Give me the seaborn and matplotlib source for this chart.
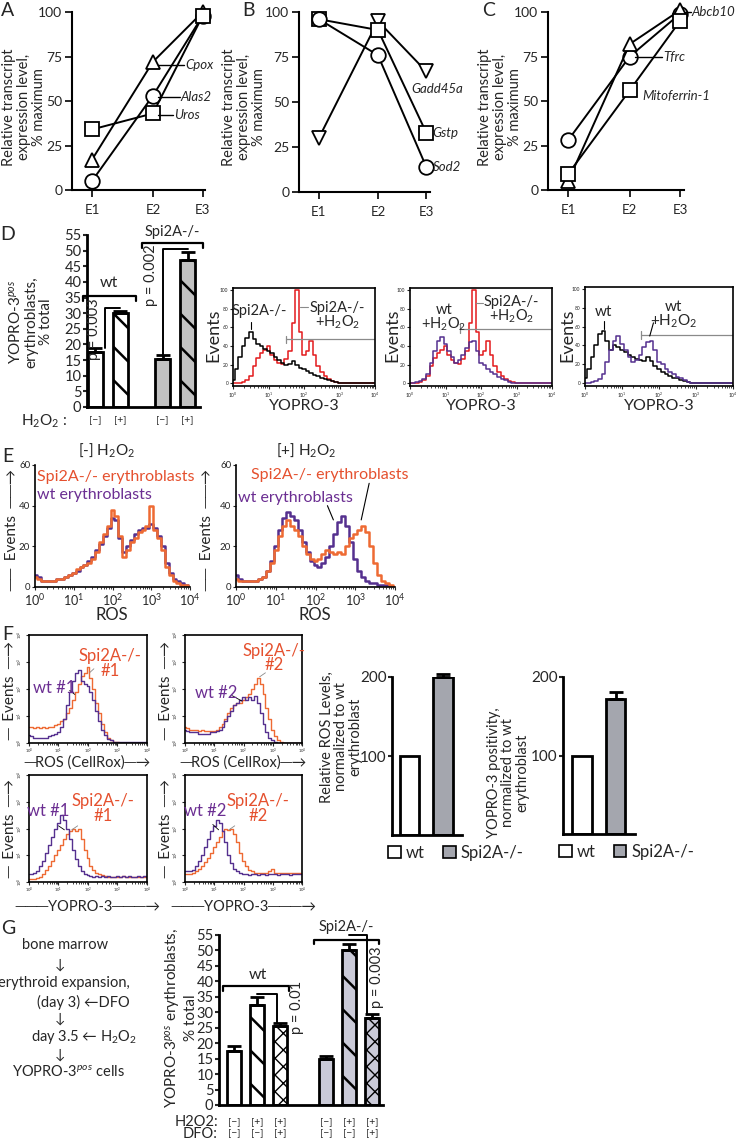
import numpy as np
import matplotlib
matplotlib.use('Agg')
import matplotlib.pyplot as plt
import seaborn as sns
from matplotlib.patches import Patch

# ---------------- values ----------------
stages = ['E1', 'E2', 'E3']

heme_genes = ['Cpox', 'Alas2', 'Uros']
heme_pct = [[17, 72, 100], [5, 53, 98], [34, 43, 98]]

stress_genes = ['Gadd45a', 'Gstp', 'Sod2']
stress_pct = [[30, 95, 67], [96, 90, 33], [96, 76, 14]]

iron_genes = ['Abcb10', 'Tfrc', 'Mitoferrin-1']
iron_pct = [[28, 75, 99], [5, 82, 101], [9, 56, 95]]

d_h2o2 = ['[−]', '[+]', '[−]', '[+]']
d_yopro = [17.5, 30.0, 15.5, 47.0]
d_err = [1.5, 0.6, 1.0, 2.5]

ros_norm = [100, 200]
ros_err = [0, 4]
yopro_norm = [100, 172]
yopro_err = [0, 9]

g_h2o2 = ['[−]', '[+]', '[+]', '[−]', '[+]', '[+]']
g_dfo = ['[−]', '[−]', '[+]', '[−]', '[−]', '[+]']
g_yopro = [17.5, 32.5, 25.5, 15.0, 50.0, 28.0]
g_err = [1.5, 2.5, 1.0, 1.0, 2.0, 1.5]

# flow histograms: channel = log10 intensity 0..4 in steps of 0.1
log_grid = np.round(np.arange(41) * 0.1, 1)

d_spi = [3, 15, 28, 40, 48, 55, 47, 42, 40, 37, 35, 32, 28, 25, 22, 20, 21, 24, 20, 16,
         15, 13, 11, 9, 8, 6, 5, 3, 2, 1, 0, 0, 0, 0, 0, 0, 0, 0, 0, 0, 0]
d_spi_h2o2 = [0, 0, 0, 1, 3, 8, 18, 27, 32, 36, 40, 30, 25, 22, 21, 26, 35, 65, 100, 55,
              30, 35, 45, 30, 18, 12, 8, 4, 2, 1, 0, 0, 0, 0, 0, 0, 0, 0, 0, 0, 0]
d_wt_h2o2 = [0, 0, 1, 2, 4, 10, 22, 35, 45, 50, 42, 35, 28, 22, 25, 30, 38, 44, 45, 35,
             22, 20, 15, 12, 10, 7, 5, 3, 1, 0, 0, 0, 0, 0, 0, 0, 0, 0, 0, 0, 0]
d_wt = [5, 15, 28, 40, 52, 55, 45, 35, 40, 38, 35, 33, 30, 28, 26, 25, 24, 28, 24, 18,
        15, 12, 10, 8, 6, 5, 3, 2, 1, 0, 0, 0, 0, 0, 0, 0, 0, 0, 0, 0, 0]

e1_spi = [5, 4, 3, 3, 3, 3, 4, 4, 5, 6, 7, 9, 10, 11, 12, 14, 17, 22, 26, 30,
          38, 35, 25, 15, 18, 22, 24, 27, 28, 30, 40, 28, 24, 18, 10, 6, 3, 2, 1, 1, 0]
e1_wt = [6, 5, 3, 3, 3, 3, 4, 4, 5, 6, 7, 8, 10, 11, 13, 15, 18, 21, 25, 29,
         34, 33, 24, 17, 20, 23, 26, 28, 29, 29, 31, 29, 25, 20, 12, 7, 4, 3, 2, 1, 0]
e2_wt = [6, 4, 3, 3, 3, 3, 4, 5, 8, 13, 20, 28, 34, 37, 35, 33, 28, 22, 17, 13,
         11, 10, 12, 15, 20, 26, 32, 35, 30, 22, 14, 8, 5, 3, 2, 2, 1, 1, 1, 0, 0]
e2_spi = [4, 3, 3, 3, 3, 3, 4, 5, 8, 12, 18, 25, 30, 33, 30, 28, 25, 20, 16, 14,
          13, 14, 16, 18, 17, 16, 17, 16, 20, 24, 26, 28, 30, 27, 20, 12, 6, 3, 2, 1, 0]

# panel F histograms, log10(events)
f_ros1_wt = [0.3, 0.25, 0.2, 0.2, 0.2, 0.2, 0.2, 0.25, 0.3, 0.35, 0.4, 0.6, 0.9, 1.4, 1.9, 2.3, 2.6, 2.7, 2.3, 2.2,
             2.1, 1.9, 1.6, 1.2, 0.8, 0.5, 0.3, 0.15, 0.1, 0.05, 0.05, 0.05, 0.05, 0.05, 0.05, 0.05, 0.05, 0.05, 0.05, 0.05, 0.05]
f_ros1_spi = [0.6, 0.6, 0.55, 0.6, 0.55, 0.6, 0.55, 0.6, 0.6, 0.65, 0.7, 0.8, 0.9, 1.1, 1.3, 1.6, 1.9, 2.2, 2.5, 2.6,
              2.8, 2.4, 2.0, 1.5, 1.1, 0.7, 0.4, 0.2, 0.1, 0.05, 0.02, 0, 0, 0, 0, 0, 0, 0, 0, 0, 0]
f_ros2_wt = [0.5, 0.45, 0.4, 0.4, 0.4, 0.35, 0.35, 0.35, 0.35, 0.4, 0.4, 0.45, 0.5, 0.6, 0.8, 1.0, 1.2, 1.4, 1.5, 1.6,
             1.7, 1.6, 1.7, 1.6, 1.75, 1.5, 1.1, 0.7, 0.4, 0.2, 0.1, 0.05, 0, 0, 0, 0, 0, 0, 0, 0, 0]
f_ros2_spi = [0.6, 0.55, 0.5, 0.5, 0.5, 0.45, 0.5, 0.45, 0.45, 0.45, 0.45, 0.5, 0.6, 0.7, 0.9, 1.1, 1.3, 1.4, 1.5, 1.5,
              1.6, 1.7, 1.8, 2.0, 2.2, 2.4, 2.2, 1.8, 1.3, 0.9, 0.5, 0.25, 0.1, 0.05, 0, 0, 0, 0, 0, 0, 0]
f_yo1_wt = [0.3, 0.3, 0.35, 0.4, 0.6, 0.8, 1.1, 1.4, 1.7, 2.0, 2.2, 2.5, 2.3, 2.0, 1.6, 1.2, 0.85, 0.6, 0.4, 0.3,
            0.25, 0.22, 0.2, 0.22, 0.2, 0.21, 0.2, 0.22, 0.2, 0.2, 0.22, 0.2, 0.21, 0.2, 0.22, 0.2, 0.2, 0.21, 0.2, 0.22, 0.2]
f_yo1_spi = [0.1, 0.1, 0.1, 0.15, 0.2, 0.3, 0.45, 0.6, 0.8, 1.0, 1.2, 1.4, 1.6, 1.8, 1.9, 2.0, 1.9, 2.0, 1.6, 1.2,
             0.9, 0.6, 0.45, 0.35, 0.3, 0.25, 0.22, 0.2, 0.2, 0.2, 0.2, 0.2, 0.22, 0.2, 0.2, 0.2, 0.2, 0.2, 0.2, 0.2, 0.2]
f_yo2_wt = [0.4, 0.4, 0.4, 0.45, 0.6, 0.8, 1.0, 1.3, 1.6, 1.9, 2.1, 2.3, 2.2, 1.9, 1.5, 1.0, 0.7, 0.5, 0.4, 0.35,
            0.3, 0.3, 0.28, 0.3, 0.3, 0.28, 0.3, 0.3, 0.28, 0.3, 0.3, 0.3, 0.28, 0.3, 0.3, 0.3, 0.28, 0.3, 0.3, 0.3, 0.3]
f_yo2_spi = [0.3, 0.3, 0.3, 0.35, 0.4, 0.5, 0.6, 0.75, 0.9, 1.1, 1.3, 1.5, 1.7, 1.9, 2.0, 1.95, 2.0, 1.8, 1.5, 1.1,
             0.8, 0.6, 0.45, 0.4, 0.35, 0.35, 0.35, 0.35, 0.35, 0.4, 0.5, 0.35, 0.35, 0.35, 0.35, 0.35, 0.35, 0.35, 0.35, 0.35, 0.35]

# ---------------- style ----------------
sns.set_style('ticks')
plt.rcParams['font.family'] = ['Lato', 'DejaVu Sans']
plt.rcParams['mathtext.fontset'] = 'custom'
plt.rcParams['mathtext.rm'] = 'Lato'
plt.rcParams['mathtext.it'] = 'Lato:italic'
plt.rcParams['hatch.linewidth'] = 1.8
plt.rcParams['axes.edgecolor'] = 'black'

PURPLE = '#55308f'
RED = '#e31a1c'
ORANGE = '#ee6a33'
T_ORANGE = '#e5502e'
T_PURPLE = '#6b2e92'
GATE = '#8a8a8a'

W, H = 737, 1139
fig = plt.figure(figsize=(W / 100, H / 100), dpi=100)


def px_axes(x0, y0, x1, y1):
    return fig.add_axes([x0 / W, 1 - y1 / H, (x1 - x0) / W, (y1 - y0) / H])


def ftext(x, y, s, **kw):
    kw.setdefault('ha', 'center')
    kw.setdefault('va', 'center')
    return fig.text(x / W, 1 - y / H, s, **kw)


# ---------------- A, B, C: expression time courses ----------------
stage_pos = [0, 1.1, 2.0]


def expr_panel(ax, vals, markers, xlim):
    for v, m in zip(vals, markers):
        sns.lineplot(x=stage_pos, y=v, ax=ax, color='black', lw=1.4, marker=m,
                     ms=10.5, mfc='white', mec='black', mew=1.3, clip_on=False)
    ax.set_xlim(*xlim)
    ax.set_ylim(0, 100)
    ax.set_yticks([0, 25, 50, 75, 100])
    ax.set_xticks(stage_pos)
    ax.set_xticklabels(stages)
    sns.despine(ax=ax)
    for s in ['left', 'bottom']:
        ax.spines[s].set_linewidth(1.5)
    ax.tick_params(labelsize=10, length=5, width=1.4, pad=2)
    ax.tick_params(axis='x', labelsize=9.5, pad=5)


axA = px_axes(72, 12, 205, 190)
expr_panel(axA, heme_pct, ['^', 'o', 's'], (-0.36, 2.04))
axB = px_axes(299, 12, 430, 192)
expr_panel(axB, stress_pct, ['v', 's', 'o'], (-0.37, 2.07))
axC = px_axes(548, 12, 684, 190)
expr_panel(axC, iron_pct, ['o', '^', 's'], (-0.36, 2.07))

gl = dict(fontsize=9.5, style='italic', va='center')
axA.plot([1.2, 1.66], [70, 70], color='black', lw=1)
axA.text(1.68, 70, heme_genes[0], **gl)
axA.plot([1.2, 1.58], [52, 52], color='black', lw=1)
axA.text(1.6, 52, heme_genes[1], **gl)
axA.plot([1.2, 1.46], [42, 42], color='black', lw=1)
axA.text(1.48, 42, heme_genes[2], **gl)
axB.text(1.72, 57, stress_genes[0], **gl)
axB.text(2.12, 33, stress_genes[1], clip_on=False, **gl)
axB.text(2.12, 14, stress_genes[2], clip_on=False, **gl)
axC.plot([2.08, 2.2], [100, 100], color='black', lw=1, clip_on=False)
axC.text(2.21, 100, iron_genes[0], clip_on=False, **gl)
axC.plot([1.2, 1.68], [75, 75], color='black', lw=1)
axC.text(1.7, 75, iron_genes[1], **gl)
axC.text(1.33, 53, iron_genes[2], **gl)

ylab = 'Relative transcript\nexpression level,\n% maximum'
for xp in (24, 244, 500):
    ftext(xp, 107, ylab, rotation=90, fontsize=10.5, linespacing=1.05)

for letter, xp, yp in [('A', 8, 10), ('B', 248, 10), ('C', 489, 10), ('D', 8, 235),
                       ('E', 8, 456), ('F', 8, 634), ('G', 8, 928)]:
    ftext(xp, yp, letter, fontsize=14)


# ---------------- bar helper ----------------
def draw_bars(ax, pos, vals, errs, faces, hatches, width):
    for p, v, e, fc, h in zip(pos, vals, errs, faces, hatches):
        bars = ax.bar(p, v, width, color=fc, edgecolor='black', linewidth=2, hatch=h, zorder=2)
        if 'x' in h:
            for b in bars:
                if hasattr(b, 'set_hatch_linewidth'):
                    b.set_hatch_linewidth(1.0)
        if e > 0:
            ax.errorbar(p, v, yerr=[[0], [e]], color='black', capsize=5,
                        elinewidth=2, capthick=2, zorder=3, clip_on=False)


def bar_axes_style(ax):
    sns.despine(ax=ax)
    for s in ['left', 'bottom']:
        ax.spines[s].set_linewidth(2)
    ax.set_xticks([])
    ax.tick_params(axis='y', labelsize=10.5, length=3, width=1.5, pad=1)


# ---------------- D: bar chart ----------------
d_pos = [0, 1, 2.7, 3.7]
axD = px_axes(87, 235, 200, 407)
draw_bars(axD, d_pos, d_yopro, d_err, ['white', 'white', '#c2c2c2', '#c2c2c2'],
          ['', '\\', '', '\\'], 0.6)
axD.set_xlim(-0.32, 4.2)
axD.set_ylim(0, 55)
axD.set_yticks(range(0, 56, 5))
bar_axes_style(axD)
for p, f in zip(d_pos, d_h2o2):
    axD.text(p, -4.5, f, ha='center', va='center', fontsize=7.5, clip_on=False)
axD.text(-1.1, -4.5, 'H$_2$O$_2$ :', ha='right', va='center', fontsize=11, clip_on=False)
# group brackets
axD.plot([-0.48, -0.48, 1.64, 1.64], [34, 35.5, 35.5, 34], color='black', lw=1.6, clip_on=False)
axD.text(0.55, 39.5, 'wt', ha='center', va='center', fontsize=11.5)
axD.plot([1.88, 1.88, 4.32, 4.32], [51, 52.5, 52.5, 51], color='black', lw=1.6, clip_on=False)
axD.text(3.1, 56, 'Spi2A-/-', ha='center', va='center', fontsize=10.5, clip_on=False)
# p-value connectors
axD.plot([0.4, 0.4, 1.0], [19, 31.5, 31.5], color='black', lw=1.4)
axD.text(-0.05, 25, 'p = 0.003', rotation=90, ha='center', va='center', fontsize=10.5,
         zorder=6)
axD.plot([2.7, 2.7, 3.7], [16.5, 50.5, 50.5], color='black', lw=1.4)
axD.text(2.25, 42, 'p = 0.002', rotation=90, ha='center', va='center', fontsize=10.5)
ftext(30, 322, 'YOPRO-3$^{pos}$\nerythroblasts,\n% total', rotation=90, fontsize=11,
      linespacing=1.05)


# ---------------- flow histogram helpers ----------------
minor_pos = [k + np.log10(m) for k in range(4) for m in range(2, 10)]


def flow_axes(ax, curves, colors, ylim, lw=1.1, box=True, tick_fs=3.5):
    for c, col in zip(curves, colors):
        sns.lineplot(x=log_grid, y=c, ax=ax, color=col, lw=lw, drawstyle='steps-mid')
    ax.set_xlim(0, 4)
    ax.set_ylim(*ylim)
    ax.set_xticks(range(5))
    ax.set_xticklabels(['$10^{%d}$' % k for k in range(5)])
    ax.set_xticks(minor_pos, minor=True)
    ax.tick_params(labelsize=tick_fs, length=2.5, width=0.8, pad=1)
    ax.tick_params(which='minor', length=1.5, width=0.6)
    for s in ax.spines.values():
        s.set_linewidth(1.2)
    if not box:
        sns.despine(ax=ax)


# D histograms
axd1 = px_axes(233, 288, 375, 386)
flow_axes(axd1, [d_spi_h2o2, d_spi], [RED, 'black'], (-3, 102))
axd1.set_yticks(range(0, 101, 20))
axd1.plot([1.5, 4], [47, 47], color=GATE, lw=0.9)
axd1.plot([1.5, 1.5], [43, 51], color=GATE, lw=0.9)
axd1.text(0.75, 77, 'Spi2A-/-', ha='center', va='center', fontsize=10.5)
axd1.plot([0.5, 0.5], [58, 66], color='black', lw=0.8)
axd1.text(2.95, 72, 'Spi2A-/-\n+H$_2$O$_2$', ha='center', va='center', fontsize=10.5,
          linespacing=0.9)
axd1.plot([1.88, 2.12], [82, 82], color=GATE, lw=0.8)

axd2 = px_axes(410, 288, 552, 386)
flow_axes(axd2, [d_spi_h2o2, d_wt_h2o2], [RED, PURPLE], (-3, 102))
axd2.set_yticks(range(0, 101, 20))
axd2.plot([1.4, 4], [58, 58], color=GATE, lw=0.9)
axd2.plot([1.4, 1.4], [54, 62], color=GATE, lw=0.9)
axd2.text(0.95, 70, 'wt\n+H$_2$O$_2$', ha='center', va='center', fontsize=10.5, linespacing=0.9)
axd2.text(2.85, 78, 'Spi2A-/-\n+H$_2$O$_2$', ha='center', va='center', fontsize=10.5,
          linespacing=0.9)
axd2.plot([1.85, 2.05], [86, 86], color=GATE, lw=0.8)

axd3 = px_axes(585, 287, 733, 386)
flow_axes(axd3, [d_wt, d_wt_h2o2], ['black', PURPLE], (-3, 102))
axd3.set_yticks(range(0, 101, 20))
axd3.plot([1.5, 4], [51, 51], color=GATE, lw=0.9)
axd3.plot([1.5, 1.5], [47, 55], color=GATE, lw=0.9)
axd3.text(0.5, 76, 'wt', ha='center', va='center', fontsize=11)
axd3.plot([0.5, 0.5], [57, 66], color='black', lw=0.8)
axd3.text(2.4, 72, 'wt\n+H$_2$O$_2$', ha='center', va='center', fontsize=11,
          linespacing=0.9)
axd3.plot([1.75, 1.85], [50, 64], color='black', lw=0.8)

for xp in (213, 392, 567):
    ftext(xp, 335, 'Events', rotation=90, fontsize=13)
for xp in (304, 481, 659):
    ftext(xp, 406, 'YOPRO-3', fontsize=11.5)

# ---------------- E ----------------
axe1 = px_axes(35, 465, 190, 587)
flow_axes(axe1, [e1_wt, e1_spi], [PURPLE, ORANGE], (0, 60), lw=1.8, box=False, tick_fs=7)
axe1.set_yticks([0, 20, 40, 60])
axe1.tick_params(axis='x', labelsize=9)
axe1.text(0.05, 54, 'Spi2A-/- erythroblasts', color=T_ORANGE, fontsize=11.5, va='center')
axe1.text(0.05, 45, 'wt erythroblasts', color=T_PURPLE, fontsize=11.5, va='center')

axe2 = px_axes(236, 465, 395, 587)
flow_axes(axe2, [e2_wt, e2_spi], [PURPLE, ORANGE], (0, 60), lw=1.8, box=False, tick_fs=7)
axe2.set_yticks([0, 20, 40, 60])
axe2.tick_params(axis='x', labelsize=9)
axe2.text(2.35, 55, 'Spi2A-/- erythroblasts', color=T_ORANGE, fontsize=11.5, ha='center', va='center')
axe2.text(0.05, 44, 'wt erythroblasts', color=T_PURPLE, fontsize=11.5, va='center')
axe2.plot([2.3, 2.45], [40, 33], color='black', lw=0.8)
axe2.plot([3.35, 3.15], [51, 33], color='black', lw=0.8)

ftext(107, 450, '[-] H$_2$O$_2$', fontsize=11)
ftext(306, 450, '[+] H$_2$O$_2$', fontsize=11)
ftext(12, 530, '──  Events  ──→', rotation=90, fontsize=11)
ftext(207, 530, '──  Events  ──→', rotation=90, fontsize=11)
ftext(112, 615, 'ROS', fontsize=12)
ftext(315, 615, 'ROS', fontsize=12)

# ---------------- F histograms ----------------
f_boxes = [(29, 635, 147, 743), (185, 635, 302, 743), (29, 775, 147, 882), (185, 775, 302, 882)]
f_data = [(f_ros1_wt, f_ros1_spi), (f_ros2_wt, f_ros2_spi), (f_yo1_wt, f_yo1_spi), (f_yo2_wt, f_yo2_spi)]
f_axes = []
for bx, (wtc, spc) in zip(f_boxes, f_data):
    ax = px_axes(*bx)
    flow_axes(ax, [spc, wtc], [ORANGE, PURPLE], (0, 4), lw=1.0, tick_fs=3.0)
    ax.tick_params(pad=0.5)
    ax.set_yticks(range(5))
    ax.set_yticklabels(['$10^{%d}$' % k for k in range(5)], rotation=90, va='center')
    f_axes.append(ax)

lab = dict(fontsize=12, ha='center', va='center', linespacing=0.9)
f_axes[0].text(0.85, 2.05, 'wt #1', color=T_PURPLE, **lab)
f_axes[0].plot([1.38, 1.55], [1.95, 1.8], color='black', lw=0.6)
f_axes[0].text(2.75, 2.95, 'Spi2A-/-\n#1', color=T_ORANGE, **lab)
f_axes[0].plot([2.05, 2.2], [2.6, 2.75], color=GATE, lw=0.6)
f_axes[1].text(1.05, 1.85, 'wt #2', color=T_PURPLE, **lab)
f_axes[1].plot([1.62, 1.95], [1.75, 1.55], color='black', lw=0.6)
f_axes[1].text(3.05, 3.15, 'Spi2A-/-\n#2', color=T_ORANGE, **lab)
f_axes[1].plot([2.55, 2.75], [2.45, 2.6], color=GATE, lw=0.6)
f_axes[2].text(0.65, 2.65, 'wt #1', color=T_PURPLE, **lab)
f_axes[2].plot([1.0, 1.2], [2.1, 1.95], color='black', lw=0.6)
f_axes[2].text(2.5, 2.75, 'Spi2A-/-\n#1', color=T_ORANGE, **lab)
f_axes[2].plot([1.45, 1.65], [1.95, 2.1], color=GATE, lw=0.6)
f_axes[3].text(0.7, 2.65, 'wt #2', color=T_PURPLE, **lab)
f_axes[3].plot([0.95, 1.15], [2.15, 1.95], color='black', lw=0.6)
f_axes[3].text(2.5, 2.75, 'Spi2A-/-\n#2', color=T_ORANGE, **lab)
f_axes[3].plot([1.5, 1.7], [1.95, 2.1], color=GATE, lw=0.6)

for xp in (10, 166):
    ftext(xp, 690, '─  Events  ─→', rotation=90, fontsize=11)
    ftext(xp, 829, '─  Events  ─→', rotation=90, fontsize=11)
for xp in (88, 244):
    ftext(xp, 763, '─ROS (CellRox)─→', fontsize=10.5)
    ftext(xp, 907, '───YOPRO-3───→', fontsize=10.5)

# ---------------- F bar charts ----------------
f_pos = [0, 1]
f_faces = ['white', '#a4a6ae']
for bx, vals, errs, xl in [((392, 677, 462, 835), ros_norm, ros_err, (-0.52, 1.57)),
                           ((563, 677, 635, 834), yopro_norm, yopro_err, (-0.57, 1.58))]:
    ax = px_axes(*bx)
    draw_bars(ax, f_pos, vals, errs, f_faces, ['', ''], 0.58)
    ax.set_xlim(*xl)
    ax.set_ylim(0, 200)
    ax.set_yticks([100, 200])
    bar_axes_style(ax)
    ax.tick_params(axis='y', labelsize=11)
    handles = [Patch(facecolor=f_faces[0], edgecolor='black', lw=1.2),
               Patch(facecolor=f_faces[1], edgecolor='black', lw=1.2)]
    ax.legend(handles, ['wt', 'Spi2A-/-'], ncol=2, frameon=False, fontsize=12,
              loc='upper left', bbox_to_anchor=(-0.17, -0.01), handlelength=0.75,
              handleheight=0.75, handletextpad=0.3, columnspacing=1.1, borderpad=0)

ftext(341, 737, 'Relative ROS Levels,\nnormalized to wt\nerythroblast', rotation=90,
      fontsize=10.5, linespacing=1.0)
ftext(508, 773, 'YOPRO-3 positivity,\nnormalized to wt\nerythroblast', rotation=90,
      fontsize=10.5, linespacing=1.0)

# ---------------- G ----------------
g_pos = [0, 1, 2, 4, 5, 6]
axG = px_axes(219, 935, 383, 1105)
draw_bars(axG, g_pos, g_yopro, g_err,
          ['white'] * 3 + ['#cacad8'] * 3, ['', '\\', 'xx', '', '\\', 'xx'], 0.59)
axG.set_xlim(-0.65, 6.48)
axG.set_ylim(0, 55)
axG.set_yticks(range(0, 56, 5))
bar_axes_style(axG)
for p, a, b in zip(g_pos, g_h2o2, g_dfo):
    axG.text(p, -5.6, a, ha='center', va='center', fontsize=7.5, clip_on=False)
    axG.text(p, -9.4, b, ha='center', va='center', fontsize=7.5, clip_on=False)
axG.text(-0.7, -5.6, 'H2O2:', ha='right', va='center', fontsize=10.5, clip_on=False)
axG.text(-0.7, -9.4, 'DFO:', ha='right', va='center', fontsize=10.5, clip_on=False)
axG.plot([-0.48, -0.48, 2.39, 2.39], [37, 38.5, 38.5, 37], color='black', lw=1.6, clip_on=False)
axG.text(1.05, 42, 'wt', ha='center', va='center', fontsize=11.5)
axG.plot([3.48, 3.48, 6.3, 6.3], [52, 53.5, 53.5, 52], color='black', lw=1.6, clip_on=False)
axG.text(4.9, 57.5, 'Spi2A-/-', ha='center', va='center', fontsize=10.5, clip_on=False)
axG.plot([1.0, 1.85, 1.85], [36, 36, 26.5], color='black', lw=1.4)
axG.text(2.75, 31.5, 'p = 0.01', rotation=90, ha='center', va='center', fontsize=10.5)
axG.plot([5.0, 5.78, 5.78], [55, 55, 29.5], color='black', lw=1.4, clip_on=False)
axG.text(6.2, 41.5, 'p = 0.003', rotation=90, ha='center', va='center', fontsize=10.5,
         clip_on=False)
ftext(181, 1018, 'YOPRO-3$^{pos}$ erythroblasts,\n% total', rotation=90, fontsize=11,
      linespacing=1.05)

# G workflow text
ftext(65, 945, 'bone marrow', fontsize=10.5)
ftext(60, 965, '↓', fontsize=10)
ftext(64, 983, 'erythroid expansion,', fontsize=10.5)
ftext(83, 1002, '(day 3) ←DFO', fontsize=10.5)
ftext(60, 1019, '↓', fontsize=10)
ftext(84, 1037, 'day 3.5 ← H$_2$O$_2$', fontsize=10.5)
ftext(60, 1055, '↓', fontsize=10)
ftext(68, 1072, 'YOPRO-3$^{pos}$ cells', fontsize=10.5)

fig.savefig('out.png', dpi=100)
